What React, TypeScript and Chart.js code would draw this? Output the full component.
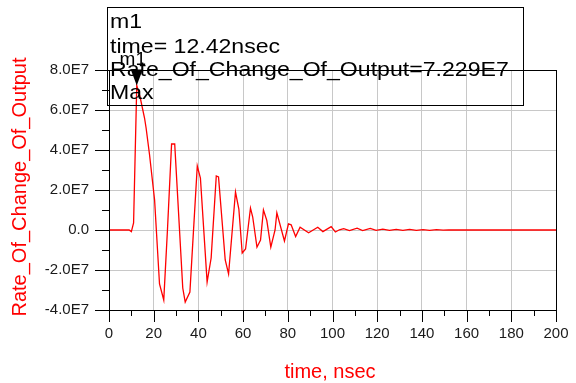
import React, { useEffect, useRef } from "react";
import { Chart, registerables } from "chart.js";

Chart.register(...registerables);

// time in nsec
const times: number[] = [
  0, 9.0, 10.0, 11.0, 12.42, 14.0, 15.9, 16.6, 18.1, 20.4, 22.6, 24.5, 26.2, 28.0, 29.4,
  33.0, 34.1, 36.2, 39.5, 40.9, 43.9, 45.7, 48.0, 49.0, 52.0, 53.5, 56.6, 58.1, 59.6,
  61.1, 63.3, 64.3, 66.2, 67.8, 69.1, 70.6, 72.4, 74.3, 75.1, 78.5, 80.3, 81.5, 83.5,
  85.5, 89.3, 93.4, 95.7, 99.4, 101.3, 103.1, 105.0, 107.6, 111.0, 113.5, 116.9, 119.5,
  122.5, 125.5, 128.5, 131.5, 134.5, 137.5, 140.5, 143.5, 146.5, 149.5, 152.0, 200.0,
];
// Rate_Of_Change_Of_Output
const values: number[] = [
  0, 0, -0.08e7, 0.35e7, 7.229e7, 6.6e7, 5.6e7, 5.1e7, 3.8e7, 1.5e7, -2.7e7, -3.5e7, 0.1e7, 4.3e7, 4.3e7,
  -2.9e7, -3.6e7, -3.1e7, 3.2e7, 2.6e7, -2.6e7, -1.4e7, 2.7e7, 2.65e7, -1.5e7, -2.2e7, 1.9e7, 1.05e7, -1.15e7,
  -0.95e7, 1.1e7, 0.65e7, -0.86e7, -0.5e7, 1.0e7, 0.48e7, -0.86e7, 0.0, 0.86e7, -0.55e7, 0.31e7, 0.26e7, -0.33e7,
  0.14e7, -0.14e7, 0.14e7, -0.08e7, 0.17e7, -0.1e7, 0.01e7, 0.07e7, -0.03e7, 0.09e7, -0.03e7, 0.08e7, -0.02e7,
  0.04e7, -0.02e7, 0.03e7, -0.02e7, 0.03e7, -0.02e7, 0.02e7, -0.02e7, 0.02e7, -0.01e7, 0, 0,
];

const xMin = 0;
const xMax = 200;
const xStep = 20;
const yMin = -4e7;
const yMax = 8e7;
const yStep = 2e7;

const markerName = "m1";
const markerTime = 12.42;
const markerValue = 7.229e7;
const markerLines: string[] = ["m1", "time= 12.42nsec", "Rate_Of_Change_Of_Output=7.229E7", "Max"];
const yTitle = "Rate_Of_Change_Of_Output";
const xTitle = "time, nsec";

const FONT = "'Liberation Sans', Arial, sans-serif";

const decorPlugin = {
  id: "decor",
  afterDraw(chart: any) {
    const ctx = chart.ctx as CanvasRenderingContext2D;
    const { left, right, top, bottom } = chart.chartArea;
    const xs = chart.scales.x;
    const ys = chart.scales.y;
    ctx.save();
    // frame
    ctx.strokeStyle = "#000";
    ctx.lineWidth = 1;
    ctx.strokeRect(Math.round(left) + 0.5, Math.round(top) + 0.5, Math.round(right - left), Math.round(bottom - top));
    // y ticks
    ctx.beginPath();
    for (let v = yMin; v <= yMax + 1; v += yStep / 2) {
      const py = Math.round(ys.getPixelForValue(v)) + 0.5;
      const major = Math.abs(Math.round(v / yStep) * yStep - v) < 1;
      const len = major ? 14 : 7;
      ctx.moveTo(left - len, py);
      ctx.lineTo(left, py);
    }
    // x ticks
    for (let t = xMin; t <= xMax + 0.001; t += xStep / 2) {
      const px = Math.round(xs.getPixelForValue(t)) + 0.5;
      const major = Math.abs(Math.round(t / xStep) * xStep - t) < 0.001;
      const len = major ? 12 : 6;
      ctx.moveTo(px, bottom);
      ctx.lineTo(px, bottom + len);
    }
    ctx.stroke();

    // axis titles
    ctx.fillStyle = "#ff0000";
    ctx.font = `20px ${FONT}`;
    ctx.textAlign = "center";
    ctx.textBaseline = "middle";
    ctx.fillText(xTitle, 330, 372);
    ctx.save();
    ctx.translate(20, 187);
    ctx.rotate(-Math.PI / 2);
    ctx.fillText(yTitle, 0, 0);
    ctx.restore();

    // marker triangle
    const mx = xs.getPixelForValue(markerTime);
    const my = ys.getPixelForValue(markerValue);
    ctx.fillStyle = "#000";
    ctx.beginPath();
    ctx.moveTo(mx - 6, my - 16);
    ctx.lineTo(mx + 6, my - 16);
    ctx.lineTo(mx, my);
    ctx.closePath();
    ctx.fill();
    ctx.font = `19px ${FONT}`;
    ctx.textAlign = "center";
    ctx.textBaseline = "alphabetic";
    ctx.fillText(markerName, mx - 4, my - 20);

    // annotation box
    ctx.strokeStyle = "#000";
    ctx.lineWidth = 1;
    ctx.strokeRect(107.5, 7.5, 416, 98);
    ctx.textAlign = "left";
    const baselines = [28, 53, 76, 99];
    ctx.font = `21px ${FONT}`;
    markerLines.forEach((s, i) => {
      ctx.save();
      ctx.translate(110, baselines[i]);
      ctx.scale(1.1, 1);
      ctx.fillText(s, 0, 0);
      ctx.restore();
    });
    ctx.restore();
  },
};

export default function App() {
  const ref = useRef<HTMLCanvasElement>(null);
  useEffect(() => {
    if (!ref.current) return;
    const data = times.map((t, i) => ({ x: t, y: values[i] }));
    const chart = new Chart(ref.current, {
      type: "line",
      data: {
        datasets: [
          {
            data,
            borderColor: "#ff0000",
            borderWidth: 1.3,
            pointRadius: 0,
            tension: 0,
          },
        ],
      },
      options: {
        responsive: false,
        animation: false,
        events: [],
        layout: { padding: { top: 70, right: 20, left: 0, bottom: 0 } },
        plugins: { legend: { display: false }, tooltip: { enabled: false } },
        scales: {
          x: {
            type: "linear",
            min: xMin,
            max: xMax,
            afterFit: (s: any) => {
              s.height = 73;
              s.paddingLeft = 0;
              s.paddingRight = 0;
            },
            border: { display: false },
            grid: { color: "#c8c8c8", lineWidth: 1, drawTicks: false },
            ticks: {
              stepSize: xStep,
              padding: 15,
              color: "#1a1a1a",
              font: { family: FONT, size: 15 },
              maxRotation: 0,
            },
          },
          y: {
            type: "linear",
            min: yMin,
            max: yMax,
            afterFit: (s: any) => {
              s.width = 109;
              s.paddingTop = 0;
              s.paddingBottom = 0;
            },
            border: { display: false },
            grid: { color: "#c8c8c8", lineWidth: 1, drawTicks: false },
            ticks: {
              stepSize: yStep,
              padding: 20,
              color: "#1a1a1a",
              font: { family: FONT, size: 15 },
              callback: (v: any) => (Math.abs(v) < 1 ? "0.0" : (v / 1e7).toFixed(1) + "E7"),
            },
          },
        },
      },
      plugins: [decorPlugin],
    });
    return () => chart.destroy();
  }, []);
  return (
    <div style={{ position: "fixed", left: 0, top: 0, width: 576, height: 383, background: "#fff" }}>
      <canvas ref={ref} width={576} height={383} style={{ display: "block" }} />
    </div>
  );
}
